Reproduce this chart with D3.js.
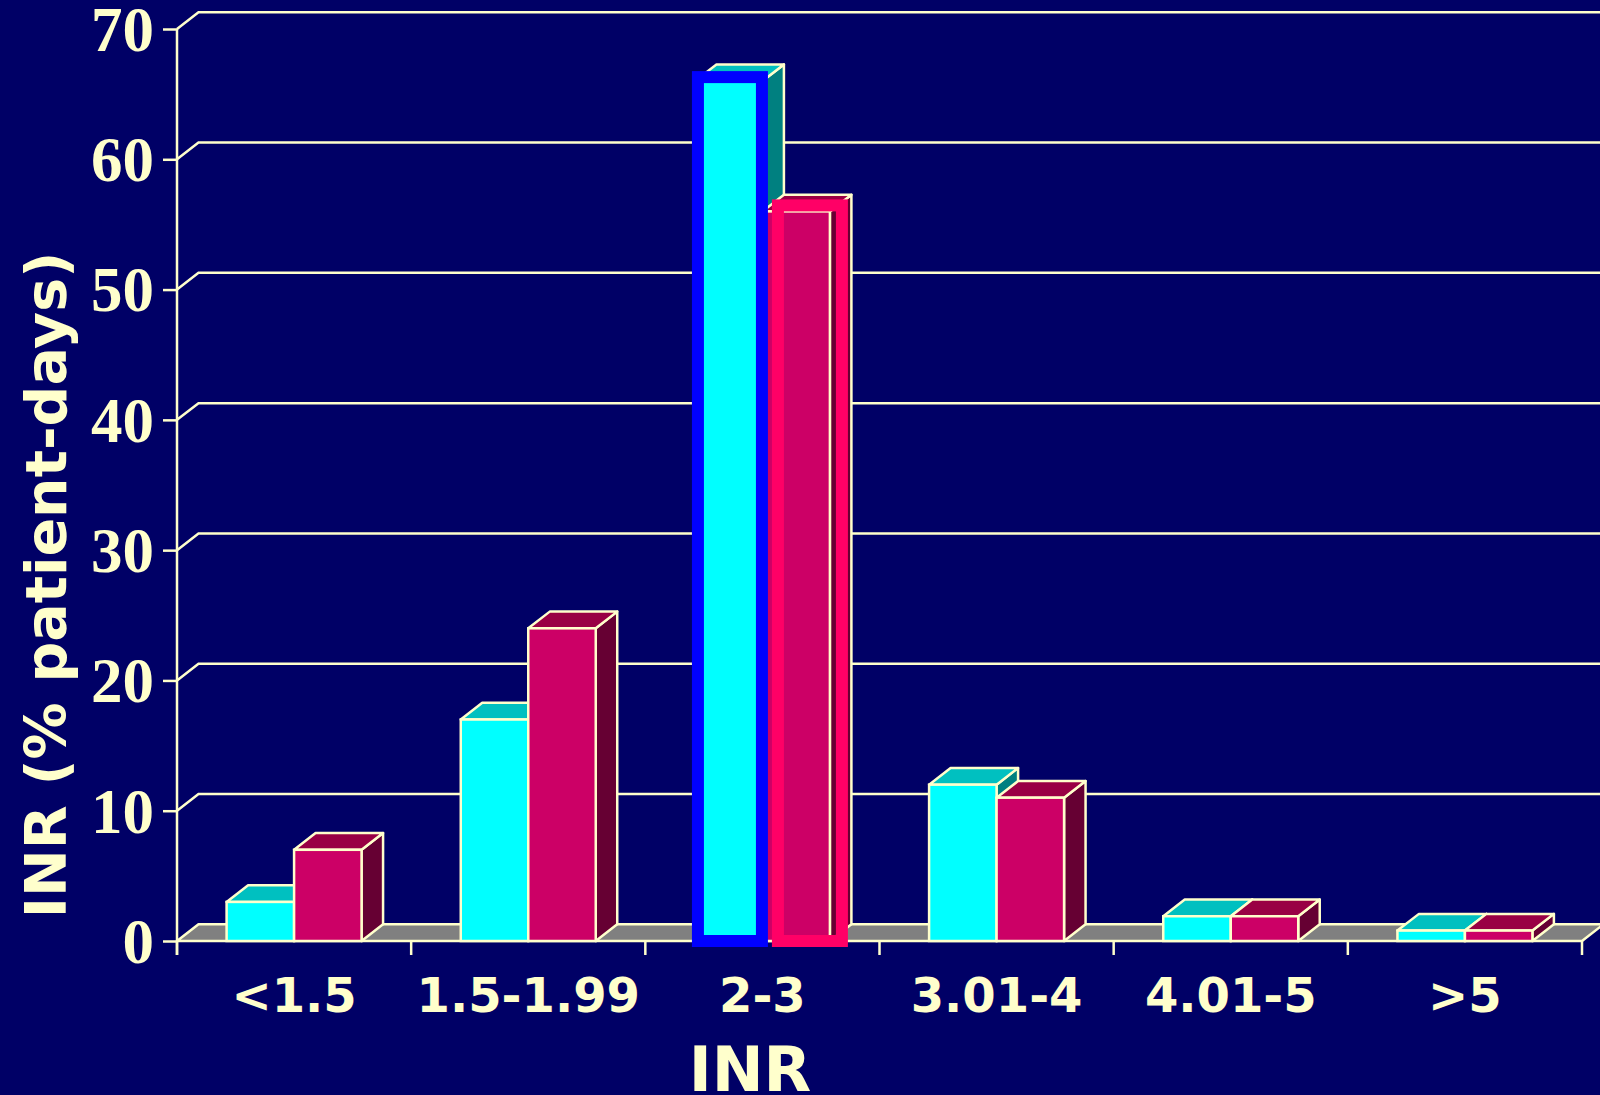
<!DOCTYPE html>
<html>
<head>
<meta charset="utf-8">
<script src="https://cdn.jsdelivr.net/npm/d3@7"></script>
<style>
  html, body { margin: 0; padding: 0; background: #000066; overflow: hidden; }
  svg { display: block; }
</style>
</head>
<body>
<svg id="chart" width="1600" height="1095"></svg>
<script>
// INR ranges and share of patient-days for the two groups
const categories = ["<1.5", "1.5-1.99", "2-3", "3.01-4", "4.01-5", ">5"];
const seriesNames = ["groupA", "groupB"];
const groupA = [3, 17, 66, 12, 1.9, 0.8];
const groupB = [7, 24, 56, 11, 1.9, 0.8];
const yTicks = [0, 10, 20, 30, 40, 50, 60, 70];
const highlighted = "2-3";

const W = 1600, H = 1095;
const cream = "#FFFFCC";
const bg = "#000066";
const depthX = 21.5, depthY = 16.7;

const palette = {
  groupA: { front: "#00FFFF", top: "#00C0C0", side: "#008080", mark: "#0000FF" },
  groupB: { front: "#CC0066", top: "#990044", side: "#660033", mark: "#FF0066" }
};

const svg = d3.select("#chart");
svg.append("rect").attr("width", W).attr("height", H).attr("fill", bg);

const y = d3.scaleLinear().domain([0, 70]).range([941, 29]);
const x = d3.scaleBand().domain(categories).range([177, 1582])
  .paddingInner(0.4236).paddingOuter(0.2118);
const xs = d3.scaleBand().domain(seriesNames).range([0, x.bandwidth()]);

const rows = categories.map((c, i) => ({ cat: c, groupA: groupA[i], groupB: groupB[i] }));

// back-wall gridlines with the diagonal joining each tick to the wall
const grid = svg.append("g");
yTicks.forEach(t => {
  if (t === 0) return;
  grid.append("path")
    .attr("d", `M${x.range()[0]},${y(t)} L${x.range()[0] + depthX},${y(t) - depthY} L${W + 10},${y(t) - depthY}`)
    .attr("fill", "none").attr("stroke", cream).attr("stroke-width", 2.5);
});

// floor
const x0 = x.range()[0], x1 = x.range()[1];
svg.append("path")
  .attr("d", `M${x0},${y(0)} L${x1},${y(0)} L${x1 + depthX},${y(0) - depthY} L${x0 + depthX},${y(0) - depthY} Z`)
  .attr("fill", "#808080").attr("stroke", cream).attr("stroke-width", 2.5)
  .attr("stroke-linejoin", "round");

// x tick marks at band boundaries
const step = x.step();
d3.range(categories.length + 1).forEach(i => {
  const tx = x0 + i * step;
  svg.append("line").attr("x1", tx).attr("x2", tx)
    .attr("y1", y(0)).attr("y2", y(0) + 14)
    .attr("stroke", cream).attr("stroke-width", 2.5);
});

// y axis
const yAxis = svg.append("g").attr("transform", `translate(${x0},0)`)
  .call(d3.axisLeft(y).tickValues(yTicks).tickSize(14).tickPadding(9).tickFormat(d3.format("d")));
yAxis.select(".domain").remove();
yAxis.selectAll(".tick line").attr("stroke", cream).attr("stroke-width", 2.5);
yAxis.selectAll(".tick text")
  .attr("fill", cream)
  .attr("font-family", "'Liberation Serif', 'Times New Roman', serif")
  .attr("font-weight", "bold")
  .attr("font-size", 63)
  .attr("dy", "0.34em");
svg.append("line").attr("x1", x0).attr("x2", x0)
  .attr("y1", y(70)).attr("y2", y(0) + 14)
  .attr("stroke", cream).attr("stroke-width", 2.5);

// 3D bars
const bars = svg.append("g");
rows.forEach(r => {
  seriesNames.forEach(s => {
    const v = r[s];
    const bx = x(r.cat) + xs(s);
    const bw = xs.bandwidth();
    const top = y(v), base = y(0);
    const col = palette[s];
    const g = bars.append("g");
    // side face
    g.append("path")
      .attr("d", `M${bx + bw},${top} L${bx + bw + depthX},${top - depthY} L${bx + bw + depthX},${base - depthY} L${bx + bw},${base} Z`)
      .attr("fill", col.side).attr("stroke", cream).attr("stroke-width", 2.5).attr("stroke-linejoin", "round");
    // top face
    g.append("path")
      .attr("d", `M${bx},${top} L${bx + depthX},${top - depthY} L${bx + bw + depthX},${top - depthY} L${bx + bw},${top} Z`)
      .attr("fill", col.top).attr("stroke", cream).attr("stroke-width", 2.5).attr("stroke-linejoin", "round");
    // front face
    g.append("rect")
      .attr("x", bx).attr("y", top).attr("width", bw).attr("height", base - top)
      .attr("fill", col.front).attr("stroke", cream).attr("stroke-width", 2.5);
  });
});

// emphasis frames around the therapeutic-range bars
const hl = rows.find(r => r.cat === highlighted);
const frameW = 76, frameStroke = 12;
const frameShift = { groupA: -3, groupB: 9.5 };
const frameLift = { groupA: 10, groupB: 12 };
seriesNames.forEach(s => {
  const bx = x(hl.cat) + xs(s) + frameShift[s];
  const top = y(hl[s]) - frameLift[s];
  const bottom = y(0) + 6;
  svg.append("rect")
    .attr("x", bx + frameStroke / 2).attr("y", top + frameStroke / 2)
    .attr("width", frameW - frameStroke).attr("height", bottom - top - frameStroke)
    .attr("fill", "none").attr("stroke", palette[s].mark).attr("stroke-width", frameStroke);
});

// category labels
const labelFont = "'Comic Sans MS', 'DejaVu Sans', sans-serif";
svg.append("g").selectAll("text").data(categories).join("text")
  .attr("x", d => x(d) + x.bandwidth() / 2)
  .attr("y", 1012)
  .attr("text-anchor", "middle")
  .attr("fill", cream)
  .attr("font-family", labelFont)
  .attr("font-weight", "bold")
  .attr("font-size", 48)
  .text(d => d);

// axis titles
svg.append("text")
  .attr("x", 750).attr("y", 1091)
  .attr("text-anchor", "middle")
  .attr("fill", cream)
  .attr("font-family", labelFont)
  .attr("font-weight", "bold")
  .attr("font-size", 62)
  .text("INR");

svg.append("text")
  .attr("transform", "translate(66,585) rotate(-90)")
  .attr("text-anchor", "middle")
  .attr("fill", cream)
  .attr("font-family", labelFont)
  .attr("font-weight", "bold")
  .attr("font-size", 57)
  .text("INR (% patient-days)");
</script>
</body>
</html>
